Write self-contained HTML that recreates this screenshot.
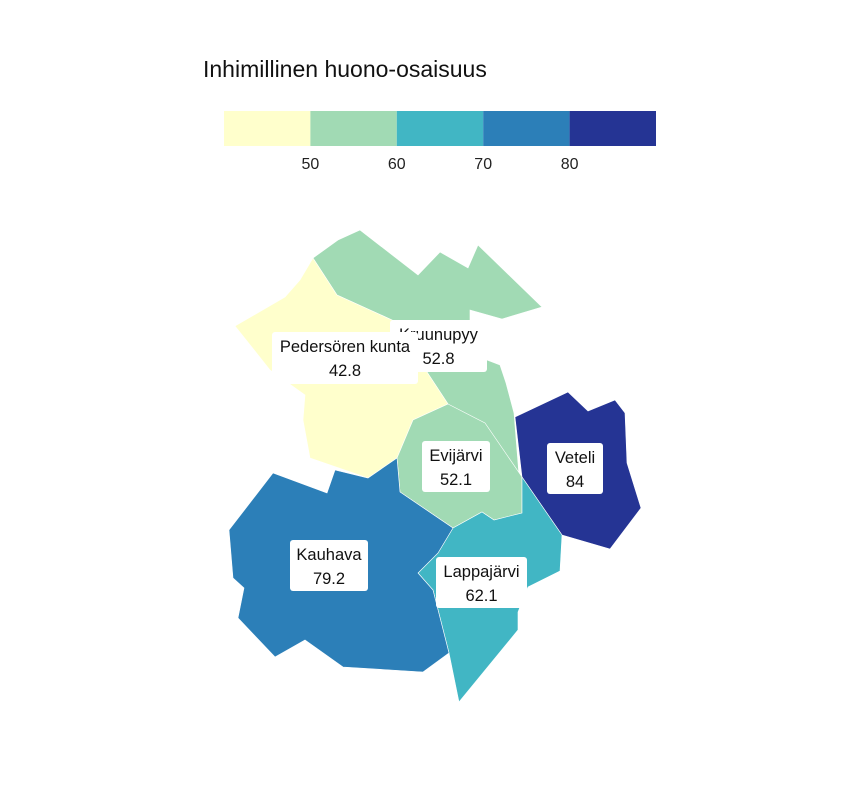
<!DOCTYPE html>
<html><head><meta charset="utf-8"><style>
html,body{margin:0;padding:0;background:#fff;}
svg{display:block;font-family:"Liberation Sans",sans-serif;}
</style></head><body>
<svg id="c" width="864" height="792" viewBox="0 0 864 792">
<text x="203" y="77" font-size="23" fill="#111">Inhimillinen huono-osaisuus</text>
<g id="legend"></g>
<g id="map"></g>
<g id="labels"></g>
</svg>
<script>
const breaks = [40, 50, 60, 70, 80, 90];
const tickLabels = ["50", "60", "70", "80"];
const palette = ["#ffffcc", "#a1dab4", "#41b6c4", "#2c7fb8", "#253494"];
const regionNames = ["Pedersören kunta", "Kruunupyy", "Evijärvi", "Veteli", "Kauhava", "Lappajärvi"];
const regionValues = [42.8, 52.8, 52.1, 84, 79.2, 62.1];

const shapes = {
"Kruunupyy":[[313,258],[338,240],[360,230],[418,275],[440,252],[468,268],[478,245],[542,307],[502,319],[470,310],[470,330],[487,360],[500,365],[506,383],[514,413],[522,513],[494,520],[482,512],[453,528],[448,404],[427,372],[420,340],[392,320],[337,295]],
"Pedersören kunta":[[313,258],[337,295],[392,320],[420,345],[427,372],[448,404],[413,420],[397,458],[368,478],[310,458],[303,420],[305,395],[270,370],[235,326],[285,297],[300,280]],
"Evijärvi":[[448,404],[485,423],[522,477],[522,513],[494,520],[482,512],[453,528],[400,492],[397,458],[413,420]],
"Veteli":[[515,417],[568,392],[588,411],[615,400],[625,413],[627,463],[641,508],[610,549],[562,535],[522,477]],
"Lappajärvi":[[453,528],[482,512],[494,520],[522,513],[522,477],[562,535],[560,571],[528,587],[518,612],[518,630],[459,702],[449,653],[433,590],[418,573],[438,553]],
"Kauhava":[[335,470],[368,478],[397,458],[400,492],[453,528],[438,553],[418,573],[433,590],[449,653],[423,672],[343,667],[305,640],[275,657],[238,618],[244,588],[233,578],[229,530],[273,473],[327,493]]
};
const labelBoxes = {
"Kruunupyy":[390,320,97,52],
"Pedersören kunta":[272,332,146,52],
"Evijärvi":[422,441,68,51],
"Veteli":[547,443,56,51],
"Kauhava":[290,540,78,51],
"Lappajärvi":[436,557,91,51]
};
const labelOrder = ["Kruunupyy","Pedersören kunta","Evijärvi","Veteli","Kauhava","Lappajärvi"];
const NS="http://www.w3.org/2000/svg";
function colorFor(v){for(let i=0;i<palette.length;i++){if(v<breaks[i+1])return palette[i];}return palette[palette.length-1];}
const lx0=224,lx1=656;
function lx(v){return lx0+(v-breaks[0])/(breaks[breaks.length-1]-breaks[0])*(lx1-lx0);}
const leg=document.getElementById('legend');
for(let i=0;i<palette.length;i++){
 const r=document.createElementNS(NS,'rect');
 r.setAttribute('x',lx(breaks[i]));r.setAttribute('y',111);
 r.setAttribute('width',lx(breaks[i+1])-lx(breaks[i]));r.setAttribute('height',35);
 r.setAttribute('fill',palette[i]);
 
 
 leg.appendChild(r);
}
tickLabels.forEach(t=>{
 const tx=document.createElementNS(NS,'text');
 tx.setAttribute('x',lx(+t));tx.setAttribute('y',169);tx.setAttribute('text-anchor','middle');
 tx.setAttribute('font-size','16');tx.setAttribute('fill','#222');tx.textContent=t;
 
 
 leg.appendChild(tx);
});
const map=document.getElementById('map');
["Kruunupyy","Pedersören kunta","Evijärvi","Veteli","Lappajärvi","Kauhava"].forEach(n=>{
 const v=regionValues[regionNames.indexOf(n)];
 const p=document.createElementNS(NS,'polygon');
 p.setAttribute('points',shapes[n].map(q=>q.join(',')).join(' '));
 p.setAttribute('fill',colorFor(v));p.setAttribute('stroke','#fff');p.setAttribute('stroke-width','0.6');
 
 
 map.appendChild(p);
});
const lab=document.getElementById('labels');
labelOrder.forEach(n=>{
 const v=regionValues[regionNames.indexOf(n)];
 const b=labelBoxes[n];
 const g=document.createElementNS(NS,'g');
 
 
 const r=document.createElementNS(NS,'rect');
 r.setAttribute('x',b[0]);r.setAttribute('y',b[1]);r.setAttribute('width',b[2]);r.setAttribute('height',b[3]);
 r.setAttribute('rx',3);r.setAttribute('fill','#fff');
 g.appendChild(r);
 const cx=b[0]+b[2]/2;
 const t1=document.createElementNS(NS,'text');
 t1.setAttribute('x',cx);t1.setAttribute('y',b[1]+20);t1.setAttribute('text-anchor','middle');
 t1.setAttribute('font-size','16.5');t1.setAttribute('fill','#111');t1.textContent=n;
 g.appendChild(t1);
 const t2=document.createElementNS(NS,'text');
 t2.setAttribute('x',cx);t2.setAttribute('y',b[1]+44);t2.setAttribute('text-anchor','middle');
 t2.setAttribute('font-size','16.5');t2.setAttribute('fill','#111');t2.textContent=String(v);
 g.appendChild(t2);
 lab.appendChild(g);
});
</script>
</body></html>
